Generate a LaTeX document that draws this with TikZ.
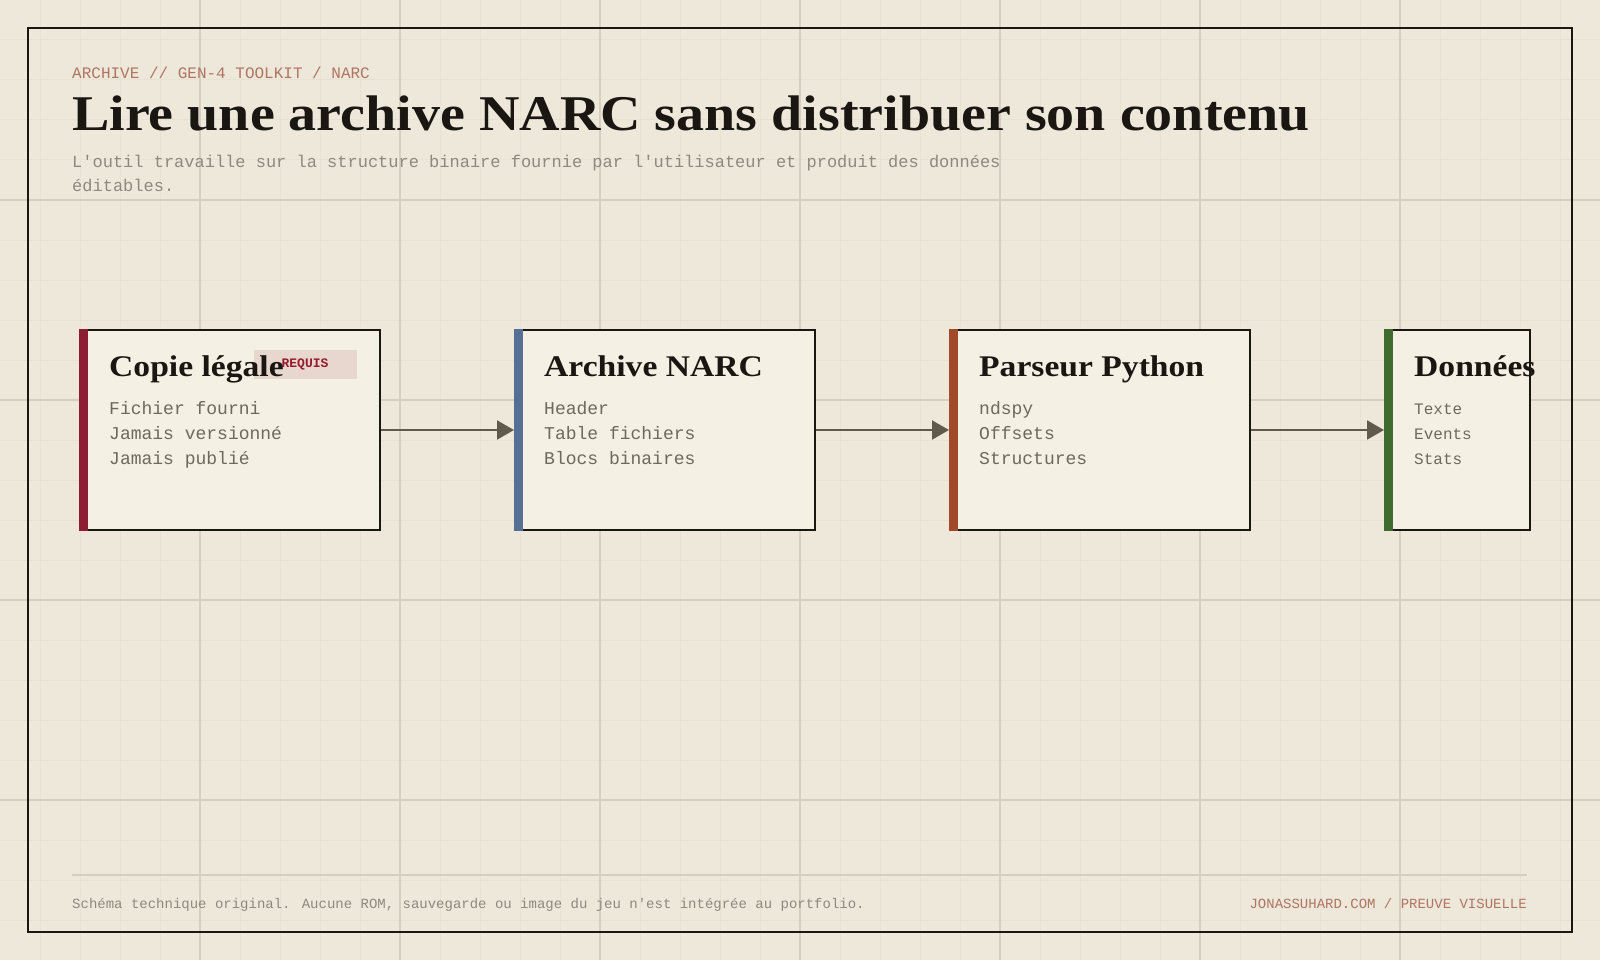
\documentclass[tikz,border=0pt]{standalone}
\usepackage{fontspec}
\setmainfont{Liberation Serif}
\newfontfamily\headfont[FakeStretch=1.12]{Liberation Serif}
\newfontfamily\codefont{Liberation Mono}
\usepackage{xcolor}
\usetikzlibrary{arrows.meta,positioning}

\definecolor{paper}{HTML}{EDE8DA}
\definecolor{cardbg}{HTML}{F5F0E4}
\definecolor{ink}{HTML}{1A1612}
\definecolor{gridmajor}{HTML}{D6CFC0}
\definecolor{gridminor}{HTML}{E8E2D3}
\definecolor{clay}{HTML}{B07562}
\definecolor{muted}{HTML}{8E897D}
\definecolor{itemgray}{HTML}{6E695D}
\definecolor{arrowgray}{HTML}{5F5A4B}
\definecolor{legalred}{HTML}{8C1D33}
\definecolor{narcblue}{HTML}{566F94}
\definecolor{pyrust}{HTML}{A04A2A}
\definecolor{datagreen}{HTML}{3F6B2E}

\begin{document}
\begin{tikzpicture}[x=1pt, y=-1pt,
        majorgrid/.style={gridmajor, line width=1.3pt},
        minorgrid/.style={gridminor, line width=1pt},
        card/.style={draw=ink, line width=2pt, fill=cardbg, rectangle, minimum width=300pt, minimum height=200pt, inner sep=0pt, anchor=north west},
        cardtitle/.style={anchor=base west, inner sep=0pt, text=ink, font=\headfont\bfseries\fontsize{30}{30}\selectfont},
        item/.style={anchor=base west, inner sep=0pt, text=itemgray, font=\codefont\fontsize{18}{18}\selectfont},
        smallitem/.style={item, font=\codefont\fontsize{16}{16}\selectfont},
        badge/.style={fill=legalred!12!cardbg, minimum width=103pt, minimum height=29pt, inner sep=0pt, text=legalred!90!red, font=\codefont\bfseries\fontsize{13}{13}\selectfont},
        flow/.style={arrowgray, line width=2pt, -{Triangle[length=17pt, width=19pt]}},
        meta/.style={anchor=base west, inner sep=0pt, font=\codefont\fontsize{16}{16}\selectfont}]
    % paper and grid
    \fill[paper] (0,0) rectangle (1600,960);
    \useasboundingbox (0,0) rectangle (1600,960);
    \foreach \g in {40,80,...,1560} \draw[minorgrid] (\g,0) -- (\g,960);
    \foreach \g in {40,80,...,920} \draw[minorgrid] (0,\g) -- (1600,\g);
    \foreach \g in {200,400,...,1400} \draw[majorgrid] (\g,0) -- (\g,960);
    \foreach \g in {200,400,600,800} \draw[majorgrid] (0,\g) -- (1600,\g);
    \draw[ink, line width=2pt] (28,28) rectangle (1572,932);

    % header
    \node[meta, text=clay] (kicker) at (72,79) {ARCHIVE // GEN-4 TOOLKIT / NARC};
    \node[anchor=base west, inner sep=0pt, text=ink, font=\headfont\bfseries\fontsize{50}{50}\selectfont] (headline) at (72,131) {Lire une archive NARC sans distribuer son contenu};
    \node[meta, text=muted, font=\codefont\fontsize{17}{17}\selectfont] (lede1) at (72,168) {L'outil travaille sur la structure binaire fournie par l'utilisateur et produit des données};
    \node[meta, text=muted, font=\codefont\fontsize{17}{17}\selectfont, anchor=base west] (lede2) at ([yshift=-24pt]lede1.base west) {éditables.};

    % cards
    \node[card] (copie) at (79,329) {};
    \node[card] (archive) at (514,329) {};
    \node[card] (parseur) at (949,329) {};
    \node[card, minimum width=145pt] (donnees) at (1384,329) {};
    \fill[legalred] (copie.north west) rectangle ++(9,202);
    \fill[narcblue] (archive.north west) rectangle ++(9,202);
    \fill[pyrust] (parseur.north west) rectangle ++(9,202);
    \fill[datagreen] (donnees.north west) rectangle ++(9,202);

    \node[badge] (requis) at (305,364) {REQUIS};
    \node[cardtitle] (copieT) at ([shift={(30,47)}]copie.north west) {Copie légale};
    \node[cardtitle] (archiveT) at ([shift={(30,47)}]archive.north west) {Archive NARC};
    \node[cardtitle] (parseurT) at ([shift={(30,47)}]parseur.north west) {Parseur Python};
    \node[cardtitle] (donneesT) at ([shift={(30,47)}]donnees.north west) {Données};

    \foreach \t [count=\k] in {Fichier fourni, Jamais versionné, Jamais publié}
        \node[item] (copie-\k) at ([shift={(30,60+25*\k)}]copie.north west) {\t};
    \foreach \t [count=\k] in {Header, Table fichiers, Blocs binaires}
        \node[item] (archive-\k) at ([shift={(30,60+25*\k)}]archive.north west) {\t};
    \foreach \t [count=\k] in {ndspy, Offsets, Structures}
        \node[item] (parseur-\k) at ([shift={(30,60+25*\k)}]parseur.north west) {\t};
    \foreach \t [count=\k] in {Texte, Events, Stats}
        \node[smallitem] (donnees-\k) at ([shift={(30,60+25*\k)}]donnees.north west) {\t};

    % flow
    \draw[flow] (copie) -- (archive);
    \draw[flow] (archive) -- (parseur);
    \draw[flow] (parseur) -- (donnees);

    % footer
    \draw[gridmajor, line width=2pt] (72,875) -- (1527,875);
    \node[meta, text=muted, font=\codefont\fontsize{14}{14}\selectfont] (note) at (72,908) {Schéma technique original. Aucune ROM, sauvegarde ou image du jeu n'est intégrée au portfolio.};
    \node[meta, text=clay, font=\codefont\fontsize{14}{14}\selectfont, anchor=base east] (credit) at (1527,908) {JONASSUHARD.COM / PREUVE VISUELLE};
\end{tikzpicture}
\end{document}
